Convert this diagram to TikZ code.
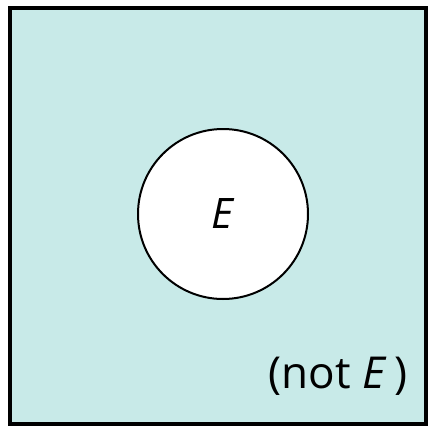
\documentclass[tikz,border=0pt]{standalone}
\usepackage{fontspec}
\setmainfont{Open Sans}
\usepackage{xcolor}
\definecolor{sampleblue}{RGB}{200,234,232}
\usetikzlibrary{positioning}

\begin{document}
\begin{tikzpicture}[x=1pt,y=-1pt]
  \useasboundingbox (0,0) rectangle (430,431);
  % sample space
  \node (space) at (218,216) [draw,line width=4pt,fill=sampleblue,minimum width=416pt,minimum height=416pt,inner sep=0pt] {};
  % event
  \node (event) at (223,214) [circle,draw,line width=2pt,fill=white,minimum size=170pt,inner sep=0pt,font=\fontsize{42}{44}\selectfont] {\textit{E}};
  % complement label
  \node (notE) at (338,376) [font=\fontsize{44}{46}\selectfont] {(not \textit{E}\,)};
\end{tikzpicture}
\end{document}
